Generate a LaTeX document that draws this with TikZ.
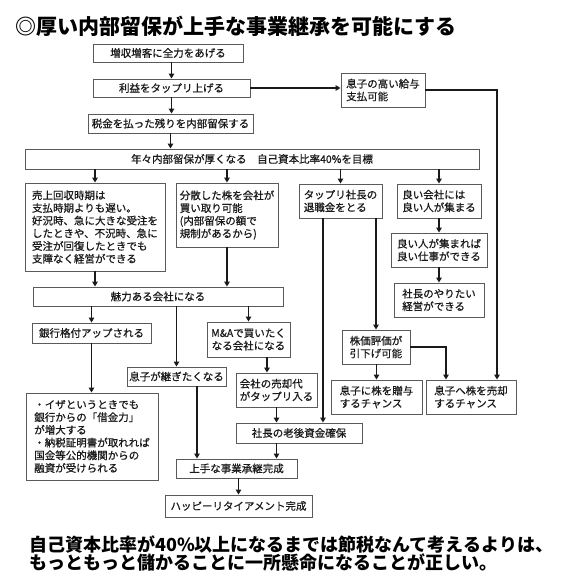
\documentclass[tikz,border=0pt]{standalone}
\usepackage{fontspec}
\setmainfont{Noto Sans CJK JP}
\newfontfamily\boxfont{Noto Sans CJK JP}[FakeBold=0.7]
\usepackage{tikz}
\usetikzlibrary{arrows.meta,positioning,calc}
\definecolor{rulec}{HTML}{5A5A5A}
\definecolor{ink}{HTML}{1A1A1A}
\tikzset{
  box/.style={draw=rulec,line width=0.9pt,fill=white,inner sep=2pt,align=center,
    font=\boxfont\fontsize{10.5}{12.7}\selectfont,text=ink},
  boxl/.style={box,align=left},
  flow/.style={-{Triangle[length=5pt,width=5.5pt]},line width=1.9pt,draw=ink},
  headline/.style={font=\fontsize{21}{24}\selectfont\bfseries,anchor=west,inner sep=0pt},
  remark/.style={font=\fontsize{18}{17}\selectfont\bfseries,anchor=west,align=left,inner sep=0pt},
}

\begin{document}
\begin{tikzpicture}[x=1pt,y=-1pt]
  \useasboundingbox (0,0) rectangle (579,578);
  \node[headline](title) at (15,26){◎厚い内部留保が上手な事業継承を可能にする};
  % --- main trunk ---
  \node[box,minimum width=150pt,minimum height=18pt](b1) at (168,53){増収増客に全力をあげる};
  \node[box,minimum width=157pt,minimum height=18pt](b2) at (171.5,88){利益をタップリ上げる};
  \node[box,minimum width=165pt,minimum height=19pt](b3) at (170.5,123.5){税金を払った残りを内部留保する};
  \node[box,minimum width=454pt,minimum height=20pt](b4) at (252,159){年々内部留保が厚くなる　自己資本比率40\%を目標};
  \node[boxl,minimum width=84pt,minimum height=34pt](b5) at (383,90){息子の高い給与\\支払可能};
  % --- four branches ---
  \node[boxl,minimum width=140pt,minimum height=88pt](b6) at (95,227){売上回収時期は\\支払時期よりも遅い。\\好況時、急に大きな受注を\\したときや、不況時、急に\\受注が回復したときでも\\支障なく経営ができる};
  \node[boxl,minimum width=102pt,minimum height=64pt](b7) at (227,215){分散した株を会社が\\買い取り可能\\(内部留保の額で\\規制があるから)};
  \node[boxl,minimum width=83pt,minimum height=34pt](b8) at (340.5,201){タップリ社長の\\退職金をとる};
  \node[boxl,minimum width=84pt,minimum height=34pt](b9) at (439,201){良い会社には\\良い人が集まる};
  \node[boxl,minimum width=96pt,minimum height=34pt](b10) at (439,250){良い人が集まれば\\良い仕事ができる};
  \node[boxl,minimum width=90pt,minimum height=34pt](b11) at (439,300){社長のやりたい\\経営ができる};
  \node[box,minimum width=250pt,minimum height=19pt](b12) at (158,296.5){魅力ある会社になる};
  % --- lower part ---
  \node[box,minimum width=119pt,minimum height=20pt](b13) at (91.5,333){銀行格付アップされる};
  \node[box,minimum width=99pt,minimum height=19pt](b14) at (176.5,376.5){息子が継ぎたくなる};
  \node[box,minimum width=83pt,minimum height=35pt](b15) at (248.5,339.5){M\&Aで買いたく\\なる会社になる};
  \node[boxl,minimum width=132pt,minimum height=87pt](b16) at (92,436.5){・イザというときでも\\銀行からの「借金力」\\が増大する\\・納税証明書が取れれば\\国金等公的機関からの\\融資が受けられる};
  \node[boxl,minimum width=81pt,minimum height=34pt](b17) at (276.5,390){会社の売却代\\がタップリ入る};
  \node[box,minimum width=126pt,minimum height=20pt](b18) at (299,433){社長の老後資金確保};
  \node[box,minimum width=121pt,minimum height=19pt](b19) at (236.5,468.5){上手な事業承継完成};
  \node[box,minimum width=147pt,minimum height=22pt](b20) at (238.5,506){ハッピーリタイアメント完成};
  \node[boxl,minimum width=68pt,minimum height=34pt](b21) at (376,347){株価評価が\\引下げ可能};
  \node[boxl,minimum width=91pt,minimum height=34pt](b22) at (376.5,397){息子に株を贈与\\するチャンス};
  \node[boxl,minimum width=90pt,minimum height=34pt](b23) at (471,397){息子へ株を売却\\するチャンス};
  \node[remark](note) at (29,553.5){自己資本比率が40\%以上になるまでは節税なんて考えるよりは、\\もっともっと儲かることに一所懸命になることが正しい。};
  % --- connectors ---
  \draw[flow](b1.south -| b2.north)--(b2.north);
  \draw[flow](b2.south)--(b2.south |- b3.north);
  \draw[flow](b3.south)--(b3.south |- b4.north);
  \draw[flow](b2.east)--(b2.east -| b5.west);
  \draw[flow](b5.east)-|([xshift=26pt]b23.north);
  \foreach \n in {b6,b7,b8,b9} \draw[flow](b4.south -| \n.north)--(\n.north);
  \draw[flow](b6.south)--(b6.south |- b12.north);
  \draw[flow](b7.south)--(b7.south |- b12.north);
  \foreach \n in {b13,b14,b15} \draw[flow](b12.south -| \n.north)--(\n.north);
  \draw[flow](b13.south)--(b13.south |- b16.north);
  \draw[flow]([xshift=18.5pt]b15.south)--([xshift=-9.5pt]b17.north);
  \draw[flow](b17.south)--(b17.south |- b18.north);
  \draw[flow]([xshift=-17.5pt]b8.south)--([xshift=-17.5pt]b8.south |- b18.north);
  \draw[flow](b8.south -| b21.north)--(b21.north);
  \draw[flow](b9.south)--(b10.north);
  \draw[flow](b10.south)--(b11.north);
  \draw[flow]([xshift=20.5pt]b14.south)--([xshift=20.5pt]b14.south |- b19.north);
  \draw[flow](b18.south -| b17.south)--(b19.north -| b17.south);
  \draw[flow](b19.south -| b20.north)--(b20.north);
  \draw[flow](b21.south -| b22.north)--(b22.north);
  \draw[flow](b21.east)-|([xshift=-25pt]b23.north);
\end{tikzpicture}
\end{document}
